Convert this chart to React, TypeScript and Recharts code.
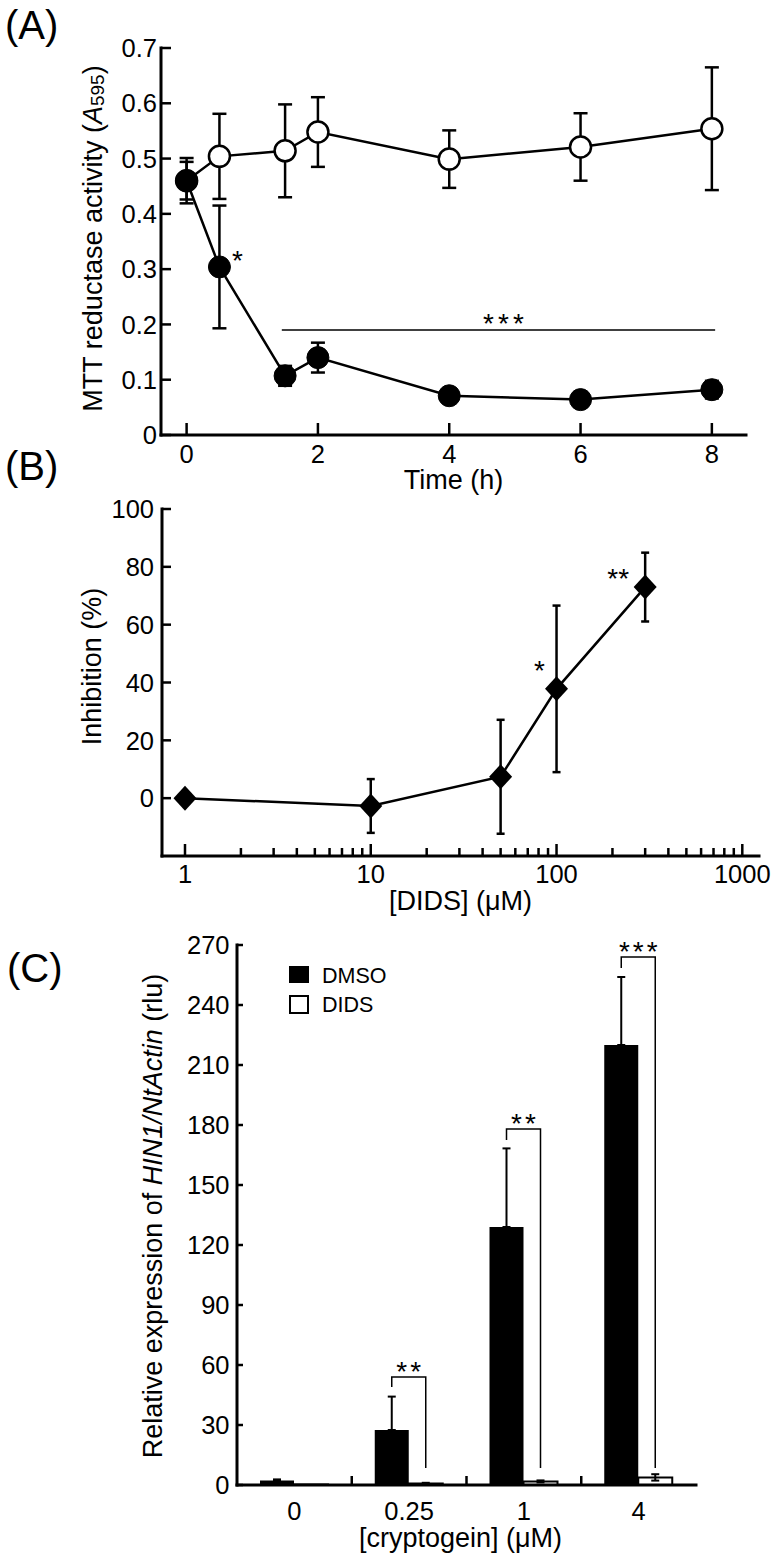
import React from 'react';
import {
  ComposedChart,
  BarChart,
  Line,
  Bar,
  XAxis,
  YAxis,
  ErrorBar,
  ReferenceLine,
  LabelList,
  Legend,
} from 'recharts';

const FONT = '"Liberation Sans", Arial, Helvetica, sans-serif';
const INK = '#000';

// (A) MTT reductase activity vs time
const timeH = [0, 0.5, 1.5, 2, 4, 6, 8];
const ctrlMean = [0.46, 0.504, 0.514, 0.548, 0.499, 0.521, 0.554];
const ctrlSd = [0.041, 0.077, 0.084, 0.063, 0.052, 0.061, 0.111];
const treatMean = [0.46, 0.304, 0.107, 0.14, 0.071, 0.064, 0.082];
const treatSd = [0.034, 0.111, 0.018, 0.027, 0.01, 0.008, 0.016];
const treatSig = ['', '*', '', '', '', '', ''];
const ticksAx = [0, 2, 4, 6, 8];
const ticksAy = [0, 0.1, 0.2, 0.3, 0.4, 0.5, 0.6, 0.7];
const sigLineA = { from: 1.45, to: 8.05, y: 0.19, text: '***' };

// (B) inhibition vs DIDS
const didsUM = [1, 10, 50, 100, 300];
const inhibMean = [0, -2.7, 7.4, 37.8, 73];
const inhibSd = [0, 9.3, 19.7, 28.8, 11.9];
const inhibSig = ['', '', '', '*', '**'];
const ticksBy = [0, 20, 40, 60, 80, 100];
const ticksBx = [
  1, 2, 3, 4, 5, 6, 7, 8, 9, 10, 20, 30, 40, 50, 60, 70, 80, 90, 100, 200, 300, 400, 500, 600, 700,
  800, 900, 1000,
];
const decadesB = [1, 10, 100, 1000];

// (C) HIN1 expression
const seriesC = ['DMSO', 'DIDS'];
const cryptoUM = ['0', '0.25', '1', '4'];
const dmsoMean = [2.2, 27.5, 129, 220];
const dmsoErr = [0.6, 16.7, 39.3, 34];
const didsMean = [0.3, 0.8, 1.8, 3.8];
const didsErr = [0, 0.3, 0.5, 1.6];
const brTop = [null, 54, 178, 264];
const brLeft = [null, 49, 172.5, 258.5];
const brRight = [null, 8.5, 8.5, 8.5];
const sigC = ['', '**', '**', '***'];
const ticksCy = [0, 30, 60, 90, 120, 150, 180, 210, 240, 270];

const dataA = timeH.map((t, i) => ({
  t,
  ctrl: ctrlMean[i],
  ctrlSd: ctrlSd[i],
  treat: treatMean[i],
  treatSd: treatSd[i],
  sig: treatSig[i],
}));
const dataB = didsUM.map((c, i) => ({ c, inhib: inhibMean[i], sd: inhibSd[i], sig: inhibSig[i] }));
const dataC = cryptoUM.map((conc, i) => ({
  conc,
  dmso: dmsoMean[i],
  dmsoErr: [0, dmsoErr[i]],
  dids: didsMean[i],
  didsErr: didsErr[i],
}));

const C_LEFT = 237;
const C_RIGHT = 82;
const C_PLOT_W = 778 - C_LEFT - C_RIGHT;
const TICK_FS = 25.5;

const axisLine = { stroke: INK, strokeWidth: 3, strokeLinecap: 'square' as const };

type TickCfg = {
  side: 'left' | 'bottom';
  len: number;
  gap: number;
  size: number;
  fmt?: (v: any) => string;
  minor?: (v: any) => boolean;
  minorLen?: number;
};

function makeTick(cfg: TickCfg) {
  return (p: any) => {
    const { x, y, payload } = p;
    const v = payload.value;
    const isMinor = cfg.minor ? cfg.minor(v) : false;
    const len = isMinor ? cfg.minorLen ?? cfg.len : cfg.len;
    const text = isMinor ? '' : cfg.fmt ? cfg.fmt(v) : String(v);
    if (cfg.side === 'left') {
      return (
        <g>
          <line x1={x} x2={x + len} y1={y} y2={y} stroke={INK} strokeWidth={2.5} />
          <text x={x - cfg.gap} y={y} dy="0.36em" textAnchor="end" fontSize={cfg.size} fontFamily={FONT} fill={INK}>
            {text}
          </text>
        </g>
      );
    }
    return (
      <g>
        <line x1={x} x2={x} y1={y} y2={y - len} stroke={INK} strokeWidth={2.5} />
        <text x={x} y={y + cfg.gap} textAnchor="middle" fontSize={cfg.size} fontFamily={FONT} fill={INK}>
          {text}
        </text>
      </g>
    );
  };
}

const tickAx = makeTick({ side: 'bottom', len: 12, gap: 28, size: TICK_FS });
const tickAy = makeTick({
  side: 'left',
  len: 10,
  gap: 4,
  size: TICK_FS,
  fmt: (v) => (v === 0 ? '0' : v.toFixed(1)),
});
const tickBx = makeTick({
  side: 'bottom',
  len: 12,
  gap: 27,
  size: TICK_FS,
  minor: (v) => !decadesB.includes(v),
  minorLen: 8,
});
const tickBy = makeTick({ side: 'left', len: 9, gap: 8, size: TICK_FS });
const tickCy = makeTick({ side: 'left', len: 6, gap: 7.5, size: TICK_FS });

const tickCx = (p: any) => {
  const { x, y, payload, index } = p;
  const band = C_PLOT_W / cryptoUM.length;
  const sep = x + band / 2;
  return (
    <g>
      {index < cryptoUM.length - 1 && (
        <line x1={sep} x2={sep} y1={y} y2={y - 9} stroke={INK} strokeWidth={2.5} />
      )}
      <text x={x} y={y + 35} textAnchor="middle" fontSize={TICK_FS} fontFamily={FONT} fill={INK}>
        {payload.value}
      </text>
    </g>
  );
};

const vbOf = (p: any) => p.viewBox ?? { x: 0, y: 0, width: 0, height: 0 };

const YLabelA = (p: any) => {
  const vb = vbOf(p);
  const cx = vb.x + 102;
  const cy = vb.y + vb.height / 2 - 3;
  return (
    <text transform={`rotate(-90, ${cx}, ${cy})`} x={cx} y={cy} textAnchor="middle" fontSize={27} fontFamily={FONT} fill={INK}>
      MTT reductase activity (<tspan fontStyle="italic">A</tspan>
      <tspan fontSize={19} dy={2}>595</tspan>
      <tspan dy={-2}>)</tspan>
    </text>
  );
};

const XLabelA = (p: any) => {
  const vb = vbOf(p);
  return (
    <text x={vb.x + vb.width / 2} y={vb.y + 54} textAnchor="middle" fontSize={27} fontFamily={FONT} fill={INK}>
      Time (h)
    </text>
  );
};

const YLabelB = (p: any) => {
  const vb = vbOf(p);
  const cx = vb.x + 101;
  const cy = vb.y + vb.height / 2 - 16;
  return (
    <text transform={`rotate(-90, ${cx}, ${cy})`} x={cx} y={cy} textAnchor="middle" fontSize={27} fontFamily={FONT} fill={INK}>
      Inhibition (%)
    </text>
  );
};

const XLabelB = (p: any) => {
  const vb = vbOf(p);
  return (
    <text x={vb.x + vb.width / 2} y={vb.y + 54} textAnchor="middle" fontSize={27} fontFamily={FONT} fill={INK}>
      [DIDS] (μM)
    </text>
  );
};

const YLabelC = (p: any) => {
  const vb = vbOf(p);
  const cx = vb.x + 162;
  const cy = vb.y + vb.height / 2 + 1;
  return (
    <text transform={`rotate(-90, ${cx}, ${cy})`} x={cx} y={cy} textAnchor="middle" fontSize={27} fontFamily={FONT} fill={INK}>
      Relative expression of <tspan fontStyle="italic">HIN1/NtActin</tspan> (rlu)
    </text>
  );
};

const XLabelC = (p: any) => {
  const vb = vbOf(p);
  return (
    <text x={vb.x + vb.width / 2 - 6} y={vb.y + 62} textAnchor="middle" fontSize={27} fontFamily={FONT} fill={INK}>
      [cryptogein] (μM)
    </text>
  );
};

const SigA = (p: any) => {
  const { x, y, value } = p;
  if (!value) return null;
  return (
    <text x={x + 18} y={y + 3} textAnchor="middle" fontSize={28} fontFamily={FONT} fill={INK}>
      {value}
    </text>
  );
};

const SigLineLabel = (p: any) => {
  const vb = vbOf(p);
  return (
    <text x={vb.x + vb.width / 2 + 7} y={vb.y + 3} textAnchor="middle" fontSize={28} letterSpacing={4} fontFamily={FONT} fill={INK}>
      {sigLineA.text}
    </text>
  );
};

const sigOffsetB: Record<string, [number, number]> = { '*': [-17, -9], '**': [-27, 1] };

const SigB = (p: any) => {
  const { x, y, value } = p;
  if (!value) return null;
  const [dx, dy] = sigOffsetB[value] ?? [0, -14];
  return (
    <text x={x + dx} y={y + dy} textAnchor="middle" fontSize={28} fontFamily={FONT} fill={INK}>
      {value}
    </text>
  );
};

const Diamond = (p: any) => {
  const { cx, cy, index } = p;
  if (cx == null || cy == null) return <g key={index} />;
  return (
    <path
      key={index}
      d={`M${cx},${cy - 12.5} L${cx + 11.5},${cy} L${cx},${cy + 12.5} L${cx - 11.5},${cy} Z`}
      fill={INK}
    />
  );
};

const Bracket = (p: any) => {
  const { x, y, width, height, value, index } = p;
  const top = brTop[index];
  if (top == null || !value || !height) return null;
  const ppu = height / value;
  const base = y + height;
  const yv = (v: number) => base - v * ppu;
  const xl = x + width / 2;
  const xr = x + width * 1.5;
  return (
    <g>
      <polyline
        points={`${xl},${yv(brLeft[index] as number)} ${xl},${yv(top)} ${xr},${yv(top)} ${xr},${yv(brRight[index] as number)}`}
        fill="none"
        stroke={INK}
        strokeWidth={1.5}
      />
      <text x={(xl + xr) / 2 + 1.5} y={yv(top) + 4} textAnchor="middle" fontSize={28} letterSpacing={3} fontFamily={FONT} fill={INK}>
        {sigC[index]}
      </text>
    </g>
  );
};

const LegendC = (p: any) => {
  const items = [...(p.payload ?? [])].sort(
    (a: any, b: any) => seriesC.indexOf(a.value) - seriesC.indexOf(b.value),
  );
  return (
    <svg width={160} height={70} style={{ display: 'block', overflow: 'visible' }}>
      {items.map((it: any, i: number) => {
        const ry = 8 + i * 29;
        const white = it.value === 'DIDS';
        return (
          <g key={it.value}>
            {white ? (
              <rect x={10} y={ry + 1} width={18} height={17} fill="#fff" stroke={INK} strokeWidth={2} />
            ) : (
              <rect x={9} y={ry} width={20} height={17} fill={INK} />
            )}
            <text x={42} y={ry + 17} fontSize={21.5} fontFamily={FONT} fill={INK}>
              {it.value}
            </text>
          </g>
        );
      })}
    </svg>
  );
};

function PanelA() {
  return (
    <ComposedChart width={778} height={510} data={dataA} margin={{ top: 48, right: 32, bottom: 0, left: 0 }}>
      <XAxis
        dataKey="t"
        type="number"
        domain={[-0.39, 8.52]}
        ticks={ticksAx}
        allowDataOverflow
        interval={0}
        height={75}
        axisLine={axisLine}
        tickLine={false}
        tickSize={0}
        tickMargin={0}
        tick={tickAx}
        label={XLabelA}
      />
      <YAxis
        type="number"
        domain={[0, 0.7]}
        ticks={ticksAy}
        allowDataOverflow
        interval={0}
        width={161}
        axisLine={axisLine}
        tickLine={false}
        tickSize={0}
        tickMargin={0}
        tick={tickAy}
        label={YLabelA}
      />
      <ReferenceLine
        segment={[
          { x: sigLineA.from, y: sigLineA.y },
          { x: sigLineA.to, y: sigLineA.y },
        ]}
        stroke={INK}
        strokeWidth={1.5}
        label={SigLineLabel}
      />
      <Line
        dataKey="ctrl"
        stroke={INK}
        strokeWidth={2.5}
        dot={{ r: 10.5, fill: '#fff', stroke: INK, strokeWidth: 2.5 }}
        activeDot={false}
        isAnimationActive={false}
      >
        <ErrorBar dataKey="ctrlSd" direction="y" width={7} stroke={INK} strokeWidth={2.5} isAnimationActive={false} />
      </Line>
      <Line
        dataKey="treat"
        stroke={INK}
        strokeWidth={2.5}
        dot={{ r: 11, fill: INK, stroke: INK, strokeWidth: 1 }}
        activeDot={false}
        isAnimationActive={false}
      >
        <ErrorBar dataKey="treatSd" direction="y" width={7} stroke={INK} strokeWidth={2.5} isAnimationActive={false} />
        <LabelList dataKey="sig" content={SigA} />
      </Line>
    </ComposedChart>
  );
}

function PanelB() {
  return (
    <ComposedChart width={778} height={460} data={dataB} margin={{ top: 39, right: 19, bottom: 0, left: 0 }}>
      <XAxis
        dataKey="c"
        type="number"
        scale="log"
        domain={[0.752, 1230]}
        ticks={ticksBx}
        allowDataOverflow
        interval={0}
        height={74}
        axisLine={axisLine}
        tickLine={false}
        tickSize={0}
        tickMargin={0}
        tick={tickBx}
        label={XLabelB}
      />
      <YAxis
        type="number"
        domain={[-20, 100]}
        ticks={ticksBy}
        allowDataOverflow
        interval={0}
        width={162}
        axisLine={axisLine}
        tickLine={false}
        tickSize={0}
        tickMargin={0}
        tick={tickBy}
        label={YLabelB}
      />
      <Line dataKey="inhib" stroke={INK} strokeWidth={2.5} dot={Diamond} activeDot={false} isAnimationActive={false}>
        <ErrorBar dataKey="sd" direction="y" width={4} stroke={INK} strokeWidth={2.5} isAnimationActive={false} />
        <LabelList dataKey="sig" content={SigB} />
      </Line>
    </ComposedChart>
  );
}

function PanelC() {
  return (
    <BarChart
      width={778}
      height={631}
      data={dataC}
      barGap={0}
      margin={{ top: 15, right: C_RIGHT, bottom: 0, left: 0 }}
    >
      <XAxis
        dataKey="conc"
        type="category"
        interval={0}
        height={76}
        axisLine={axisLine}
        tickLine={false}
        tickSize={0}
        tickMargin={0}
        tick={tickCx}
        label={XLabelC}
      />
      <YAxis
        type="number"
        domain={[0, 270]}
        ticks={ticksCy}
        allowDataOverflow
        interval={0}
        width={C_LEFT}
        axisLine={axisLine}
        tickLine={false}
        tickSize={0}
        tickMargin={0}
        tick={tickCy}
        label={YLabelC}
      />
      <Legend
        layout="vertical"
        align="center"
        verticalAlign="middle"
        wrapperStyle={{ position: 'absolute', left: 280, top: 28, width: 160, height: 70 }}
        content={LegendC}
      />
      <Bar dataKey="dmso" name="DMSO" fill={INK} barSize={34} isAnimationActive={false}>
        <ErrorBar dataKey="dmsoErr" direction="y" width={4} stroke={INK} strokeWidth={2} isAnimationActive={false} />
        <LabelList dataKey="dmso" content={Bracket} />
      </Bar>
      <Bar dataKey="dids" name="DIDS" fill="#fff" stroke={INK} strokeWidth={2} barSize={34} isAnimationActive={false}>
        <ErrorBar dataKey="didsErr" direction="y" width={4} stroke={INK} strokeWidth={2} isAnimationActive={false} />
      </Bar>
    </BarChart>
  );
}

export default function App() {
  return (
    <div style={{ position: 'absolute', left: 0, top: 0, width: 778, height: 1561, background: '#fff' }}>
      <svg width={778} height={1561} style={{ position: 'absolute', left: 0, top: 0, pointerEvents: 'none' }}>
        <text x={5} y={39} fontSize={40} fontFamily={FONT} fill={INK}>(A)</text>
        <text x={5} y={480} fontSize={40} fontFamily={FONT} fill={INK}>(B)</text>
        <text x={7} y={982} fontSize={40} fontFamily={FONT} fill={INK}>(C)</text>
      </svg>
      <div style={{ position: 'absolute', left: 0, top: 0 }}>
        <PanelA />
      </div>
      <div style={{ position: 'absolute', left: 0, top: 470 }}>
        <PanelB />
      </div>
      <div style={{ position: 'absolute', left: 0, top: 930 }}>
        <PanelC />
      </div>
    </div>
  );
}
